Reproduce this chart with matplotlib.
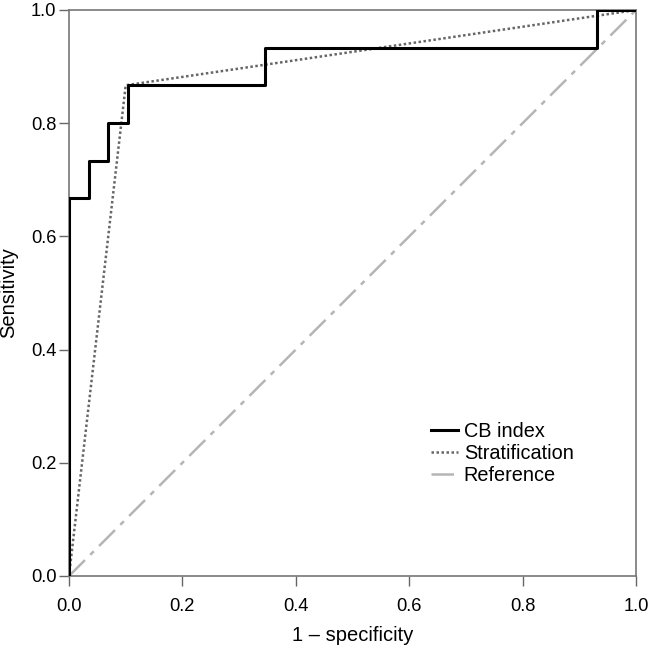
import matplotlib.pyplot as plt
import numpy as np

plt.rcParams['font.family'] = ['Liberation Sans', 'DejaVu Sans']

# CB index ROC (step curve)
cb_fpr = [0.0, 0.0, 0.0345, 0.0345, 0.069, 0.069, 0.1034, 0.1034, 0.3448, 0.3448, 0.931, 0.931, 1.0]
cb_tpr = [0.0, 0.667, 0.667, 0.733, 0.733, 0.8, 0.8, 0.867, 0.867, 0.933, 0.933, 1.0, 1.0]

# Stratification ROC
strat_fpr = [0.0, 0.1, 1.0]
strat_tpr = [0.0, 0.867, 1.0]

# Reference line
ref_fpr = [0.0, 1.0]
ref_tpr = [0.0, 1.0]

ticks = [0.0, 0.2, 0.4, 0.6, 0.8, 1.0]

W, H = 648, 650
fig = plt.figure(figsize=(W / 100, H / 100), dpi=100)
ax = fig.add_axes([69 / W, 1 - 576 / H, 567 / W, 566 / H])

ax.plot(ref_fpr, ref_tpr, color='#b5b5b5', linewidth=1.8,
        linestyle=(0, (9, 3, 2, 3)), label='Reference', zorder=1)
ax.plot(strat_fpr, strat_tpr, color='#666666', linewidth=1.8,
        linestyle=(0, (1, 1)), label='Stratification', zorder=2)
ax.plot(cb_fpr, cb_tpr, color='black', linewidth=2.2,
        label='CB index', zorder=3)

ax.set_xlim(0, 1)
ax.set_ylim(0, 1)
ax.set_xticks(ticks)
ax.set_yticks(ticks)
ax.set_xticklabels([f"{t:.1f}" for t in ticks])
ax.set_yticklabels([f"{t:.1f}" for t in ticks])
ax.tick_params(direction='out', length=7, width=1, color='#666666',
               labelsize=13.2)
ax.tick_params(axis='x', pad=8.5)
ax.tick_params(axis='y', pad=2)

for s in ax.spines.values():
    s.set_color('#777777')
    s.set_linewidth(1.2)

ax.set_xlabel("1 \u2013 specificity", fontsize=14.5)
ax.set_ylabel("Sensitivity", fontsize=14.5)
ax.xaxis.set_label_coords(0.5, -(626 - 576) / 566, transform=ax.transAxes)
ax.yaxis.set_label_coords(-(69 - 18) / 567, 0.5, transform=ax.transAxes)

handles, labels = ax.get_legend_handles_labels()
order = [2, 1, 0]
ax.legend([handles[i] for i in order], [labels[i] for i in order],
          loc='lower left', bbox_to_anchor=((417 - 69) / 567, (576 - 499) / 566),
          frameon=False, fontsize=14.3, handlelength=1.35, handletextpad=0.3,
          labelspacing=0.15, borderpad=0.2)

fig.savefig("out.png", dpi=100)
